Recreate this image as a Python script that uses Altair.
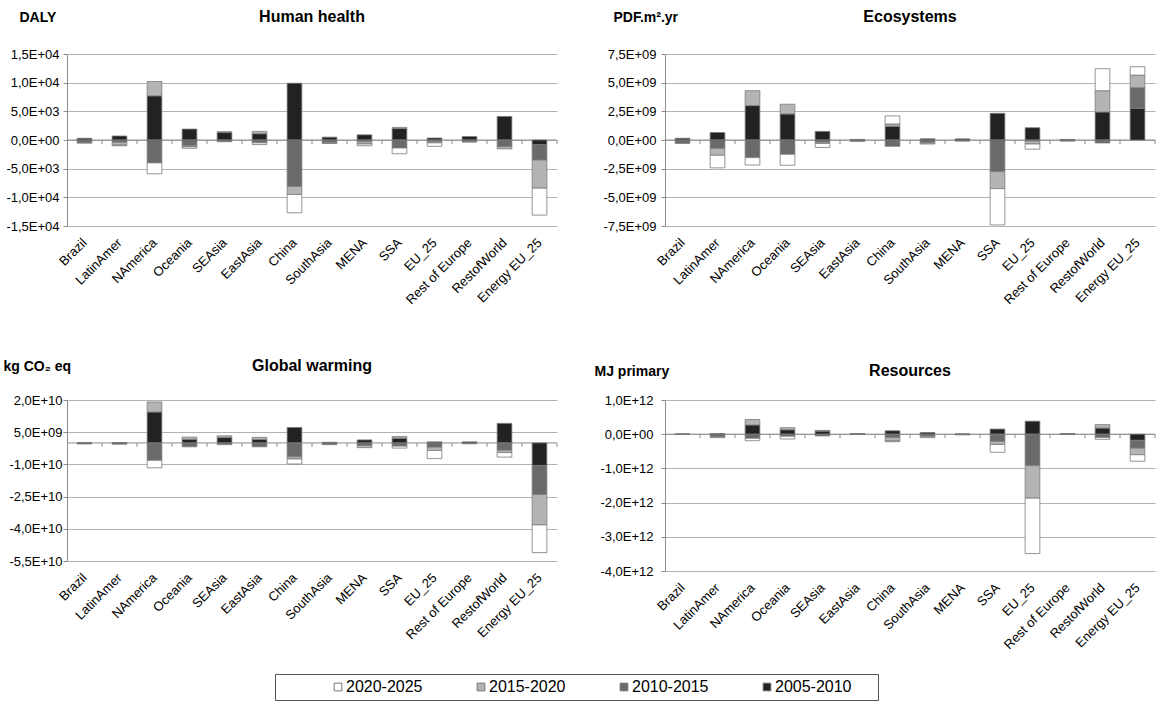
import altair as alt
import pandas as pd

FONT = "Liberation Sans"

regions = ["Brazil", "LatinAmer", "NAmerica", "Oceania", "SEAsia", "EastAsia", "China",
           "SouthAsia", "MENA", "SSA", "EU_25", "Rest of Europe", "RestofWorld", "Energy EU_25"]
periods = ["2005-2010", "2010-2015", "2015-2020", "2020-2025"]
legend_order = ["2020-2025", "2015-2020", "2010-2015", "2005-2010"]
legend_colors = ["#ffffff", "#b4b4b4", "#6a6a6a", "#222222"]

# Human health, DALY (values in 1E+03)
hh_0510 = [0.3, 0.7, 7.7, 1.9, 1.3, 1.1, 9.9, 0.5, 0.9, 2.0, 0.35, 0.6, 4.1, -0.8]
hh_1015 = [-0.45, -0.4, -4.0, -1.0, -0.3, -0.5, -8.1, -0.5, -0.3, -1.4, -0.3, -0.3, -1.15, -2.7]
hh_1520 = [-0.1, -0.5, 2.5, -0.2, 0.15, 0.4, -1.4, -0.1, -0.4, 0.2, -0.2, -0.05, -0.4, -4.9]
hh_2025 = [0, -0.1, -1.9, -0.25, 0, -0.3, -3.2, 0, -0.3, -1.0, -0.6, 0, 0, -4.7]

# Ecosystems, PDF.m2.yr (values in 1E+09)
eco_0510 = [0.15, 0.65, 3.0, 2.27, 0.75, 0.05, 1.2, 0.1, 0.1, 2.33, 1.07, 0.05, 2.44, 2.76]
eco_1015 = [-0.3, -0.73, -1.54, -1.25, -0.2, -0.12, -0.55, -0.25, -0.1, -2.76, -0.1, -0.1, -0.26, 1.8]
eco_1520 = [0, -0.6, 1.3, 0.85, -0.1, 0, 0.2, -0.1, 0, -1.48, -0.25, 0, 1.86, 1.1]
eco_2025 = [0, -1.1, -0.64, -0.95, -0.35, 0, 0.7, 0, 0, -3.17, -0.45, 0, 1.92, 0.73]

# Global warming, kg CO2 eq (values in 1E+09)
gw_0510 = [0.1, 0.2, 14.4, 1.7, 2.5, 1.6, 7.2, 0.3, 1.4, 2.2, 0.5, 0.5, 9.1, -10.5]
gw_1015 = [-0.5, -0.6, -8.1, -1.8, -0.8, -1.8, -6.4, -0.8, -1.2, -1.5, -2.0, -0.4, -3.4, -13.5]
gw_1520 = [0, 0, 4.7, 1.0, 0.8, 1.0, -1.1, 0, -1.0, 0.8, -1.5, 0, -1.1, -14.2]
gw_2025 = [0, 0, -3.5, 0, 0, 0, -2.3, 0, 0, -0.9, -3.8, 0, -2.1, -12.9]

# Resources, MJ primary (values in 1E+12)
res_0510 = [0.01, 0.02, 0.27, 0.13, 0.09, 0.02, 0.10, 0.05, 0.01, 0.15, 0.38, 0.02, 0.18, -0.18]
res_1015 = [-0.01, -0.07, -0.12, -0.06, -0.05, -0.01, -0.10, -0.06, -0.02, -0.21, -0.92, -0.01, -0.10, -0.23]
res_1520 = [0, -0.03, 0.16, 0.06, 0.02, 0, -0.10, -0.04, 0, -0.09, -0.95, 0, 0.10, -0.19]
res_2025 = [0, 0, -0.07, -0.08, 0, 0, -0.02, 0, 0, -0.23, -1.62, 0, -0.05, -0.19]

# Excel-style scientific labels: 1,5E+04
SCI_LABEL = (
    "datum.value == 0 ? '0,0E+00' : "
    "replace(replace(replace(upper(format(datum.value, '.1e')), '.', ','), '\u2212', '-'), "
    "regexp('E([+-])([0-9])$'), 'E$10$2')"
)

GRID = "#b3b3b3"
LINE = "#8c8c8c"


def long_frame(series, unit):
    rows = []
    for rank, (period, vals) in enumerate(zip(periods, series)):
        for region, v in zip(regions, vals):
            if v != 0:
                rows.append({"region": region, "period": period, "rank": rank, "value": v * unit})
    return pd.DataFrame(rows)


def panel(series, unit, title, unit_label, unit_dx, unit_dy, ticks, width, height, ypad):
    df = long_frame(series, unit)
    step = width / len(regions)
    xscale = alt.Scale(domain=regions, paddingInner=0.58, paddingOuter=0.29)
    yscale = alt.Scale(domain=[ticks[0], ticks[-1]], nice=False, zero=False)

    bars = alt.Chart(df).mark_bar(stroke="#7a7a7a", strokeWidth=0.8).encode(
        x=alt.X("region:N", scale=xscale, title=None,
                axis=alt.Axis(labelAngle=-45, labelFont=FONT, labelFontSize=13,
                              labelColor="#000", domain=False, ticks=False,
                              labelPadding=10, labelOffset=-4, labelOverlap=False)),
        y=alt.Y("value:Q", stack="zero", scale=yscale,
                axis=alt.Axis(values=ticks, tickCount=len(ticks), labelExpr=SCI_LABEL,
                              labelFont=FONT, labelFontSize=13, labelColor="#000",
                              labelOverlap=False, grid=True, gridColor=GRID, gridWidth=1,
                              domainColor=LINE, tickColor=LINE, tickSize=4, labelPadding=ypad,
                              title=unit_label, titleAngle=0, titleAlign="left",
                              titleBaseline="middle", titleX=unit_dx, titleY=unit_dy,
                              titleFont=FONT, titleFontSize=14, titleFontWeight="bold",
                              titleColor="#000")),
        color=alt.Color("period:N",
                        scale=alt.Scale(domain=legend_order, range=legend_colors),
                        legend=alt.Legend(orient="none", legendX=208, legendY=620,
                                          direction="horizontal", columns=4, title=" ",
                                          titleOrient="right", titlePadding=21,
                                          symbolType="square", symbolSize=60,
                                          symbolStrokeColor="#777", symbolStrokeWidth=1,
                                          symbolOffset=50, columnPadding=-9,
                                          labelFont=FONT, labelFontSize=16,
                                          labelColor="#000", labelOffset=0,
                                          strokeColor="#555", padding=5)),
        order=alt.Order("rank:Q", sort="ascending"),
    )

    zero_line = alt.Chart(pd.DataFrame({"z": [0]})).mark_rule(
        color=LINE, strokeWidth=1
    ).encode(y=alt.datum(0))

    boundary_ticks = alt.Chart(pd.DataFrame({"region": regions})).mark_rule(
        color=LINE, strokeWidth=1, y2Offset=4, xOffset=step / 2
    ).encode(x=alt.X("region:N", scale=xscale), y=alt.datum(0), y2=alt.datum(0))

    return alt.layer(zero_line, bars, boundary_ticks).properties(
        width=width, height=height,
        title=alt.TitleParams(title, font=FONT, fontSize=16, fontWeight="bold",
                              color="#000", anchor="middle", offset=0, dy=15),
    )


hh = panel([hh_0510, hh_1015, hh_1520, hh_2025], 1e3, "Human health", "DALY", -48, -37,
           [-1.5e4, -1.0e4, -5.0e3, 0, 5.0e3, 1.0e4, 1.5e4], 490, 172, 4)
eco = panel([eco_0510, eco_1015, eco_1520, eco_2025], 1e9, "Ecosystems", "PDF.m\u00b2.yr", -52, -37,
            [-7.5e9, -5.0e9, -2.5e9, 0, 2.5e9, 5.0e9, 7.5e9], 490, 172, 5)
gw = panel([gw_0510, gw_1015, gw_1520, gw_2025], 1e9, "Global warming", "kg CO\u2082 eq", -64, -34,
           [-5.5e10, -4.0e10, -2.5e10, -1.0e10, 5.0e9, 2.0e10], 490, 161, 1)
res = panel([res_0510, res_1015, res_1520, res_2025], 1e12, "Resources", "MJ primary", -71, -29,
            [-4.0e12, -3.0e12, -2.0e12, -1.0e12, 0, 1.0e12], 490, 171, 8)

chart = alt.concat(
    hh, eco, gw, res, columns=2, spacing={"row": 174, "column": 108}, bounds="flush"
).resolve_scale(
    x="independent", y="independent", color="shared"
).properties(
    padding={"left": 3, "top": 9, "right": 0, "bottom": 0},
    background="#ffffff",
).configure_view(stroke=None)

chart.save("out.html", embed_options={"renderer": "svg", "actions": False})
